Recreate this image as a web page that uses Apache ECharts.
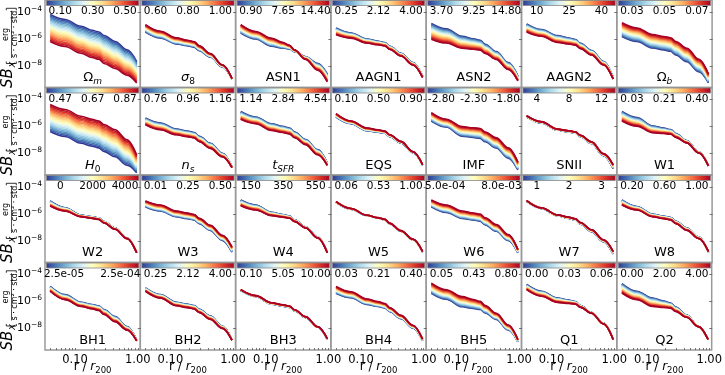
<!DOCTYPE html>
<html>
<head>
<meta charset="utf-8">
<script src="https://cdn.jsdelivr.net/npm/echarts@6/dist/echarts.min.js"></script>
<style>
  html, body { margin: 0; padding: 0; background: #fff; }
  #chart { width: 725px; height: 375px; }
</style>
</head>
<body>
<div id="chart"></div>
<script>
// radii (r / r200) where the profiles are sampled
var radii = [0.040, 0.069, 0.124, 0.186, 0.240, 0.289, 0.433, 0.673, 0.96];
// log10 SB of the fiducial profile at those radii
var baseLogSB = [-5.18, -5.64, -6.11, -6.27, -6.38, -6.66, -7.18, -7.96, -8.92];

// panel names: [main, subscript, main italic, sub italic]
var panelNames = [
  ['Ω', 'm', 0, 1], ['σ', '8', 1, 0], ['ASN1'], ['AAGN1'], ['ASN2'], ['AAGN2'], ['Ω', 'b', 0, 1],
  ['H', '0', 1, 0], ['n', 's', 1, 1], ['t', 'SFR', 1, 1], ['EQS'], ['IMF'], ['SNII'], ['W1'],
  ['W2'], ['W3'], ['W4'], ['W5'], ['W6'], ['W7'], ['W8'],
  ['BH1'], ['BH2'], ['BH3'], ['BH4'], ['BH5'], ['Q1'], ['Q2']
];

// colorbar tick labels per panel
var cbTicks = [
  ['0.10', '0.30', '0.50'], ['0.60', '0.80', '1.00'], ['0.90', '7.65', '14.40'], ['0.25', '2.12', '4.00'],
  ['3.70', '9.25', '14.80'], ['10', '25', '40'], ['0.03', '0.05', '0.07'],
  ['0.47', '0.67', '0.87'], ['0.76', '0.96', '1.16'], ['1.14', '2.84', '4.54'], ['0.10', '0.50', '0.90'],
  ['-2.80', '-2.30', '-1.80'], ['4', '8', '12'], ['0.03', '0.21', '0.40'],
  ['0', '2000', '4000'], ['0.01', '0.25', '0.50'], ['150', '350', '550'], ['0.06', '0.53', '1.00'],
  ['5.0e-04', '8.0e-03'], ['1', '2', '3'], ['0.20', '0.60', '1.00'],
  ['2.5e-05', '2.5e-04'], ['0.25', '2.12', '4.00'], ['0.10', '5.05', '10.00'], ['0.03', '0.21', '0.40'],
  ['0.05', '0.43', '0.80'], ['0.00', '0.03', '0.06'], ['0.00', '2.00', '4.00']
];

// offset (dex) from the fiducial profile of the lowest-parameter (blue) curve
var blueEdge = [
  [1.0, 1.09, 1.06, 0.92, 0.9, 0.92, 1.0, 1.16, 1.25],
  [-0.3, -0.28, -0.25, -0.22, -0.22, -0.2, -0.15, -0.1, -0.05],
  [-0.38, -0.36, -0.42, -0.4, -0.36, -0.28, -0.13, 0.16, 0.33],
  [0.0, 0.09, 0.11, 0.11, 0.11, 0.12, 0.12, 0.21, 0.17],
  [0.33, 0.39, 0.31, 0.29, 0.28, 0.27, 0.25, 0.21, 0.18],
  [0.3, 0.34, 0.36, 0.35, 0.34, 0.34, 0.33, 0.29, 0.08],
  [-0.63, -0.54, -0.56, -0.54, -0.53, -0.52, -0.5, -0.46, -0.33],
  [-1.19, -1.1, -1.13, -1.18, -1.2, -1.18, -1.06, -0.9, -0.51],
  [-0.19, -0.1, -0.08, -0.07, -0.07, -0.07, -0.06, -0.03, -0.06],
  [0.29, 0.35, 0.32, 0.28, 0.26, 0.25, 0.21, 0.25, 0.21],
  [-0.12, -0.15, -0.2, -0.15, -0.12, -0.09, -0.04, 0.02, 0.05],
  [-0.41, -0.4, -0.6, -0.54, -0.5, -0.47, -0.41, -0.38, -0.29],
  [-0.1, -0.1, -0.15, -0.13, -0.11, -0.1, -0.08, -0.2, -0.2],
  [0.29, 0.3, 0.15, 0.15, 0.15, 0.14, 0.14, 0.08, 0.0],
  [0.15, 0.11, 0.03, 0.07, 0.09, 0.11, 0.15, 0.19, 0.1],
  [-0.28, -0.14, -0.09, -0.07, -0.06, -0.05, -0.03, 0.01, 0.1],
  [0.22, 0.31, 0.24, 0.23, 0.23, 0.23, 0.22, 0.26, 0.1],
  [0.05, 0.0, 0.0, -0.03, -0.05, -0.07, -0.1, 0.05, 0.1],
  [-0.28, -0.24, -0.21, -0.17, -0.15, -0.14, -0.1, 0.0, 0.05],
  [0.12, 0.05, -0.02, -0.05, -0.07, -0.09, -0.12, -0.1, -0.05],
  [0.22, 0.19, 0.09, 0.11, 0.12, 0.13, 0.15, 0.26, 0.05],
  [0.31, 0.15, 0.05, 0.05, 0.05, 0.06, 0.06, 0.1, 0.06],
  [0.19, 0.15, 0.05, 0.07, 0.08, 0.09, 0.11, 0.15, 0.1],
  [0.0, 0.02, -0.08, -0.07, -0.05, -0.03, 0.0, 0.05, 0.12],
  [-0.21, -0.08, -0.1, -0.1, -0.1, -0.09, -0.09, 0.0, 0.0],
  [-0.21, -0.19, -0.28, -0.24, -0.21, -0.18, -0.14, -0.15, -0.06],
  [0.44, 0.4, 0.37, 0.37, 0.37, 0.36, 0.36, 0.35, 0.11],
  [0.51, 0.4, 0.37, 0.31, 0.27, 0.25, 0.19, 0.1, 0.11]
];
// offset (dex) of the highest-parameter (red) curve
var redEdge = [
  [-1.0, -0.91, -0.94, -1.1, -1.12, -1.15, -1.0, -0.71, -0.33],
  [0.25, 0.22, 0.2, 0.18, 0.18, 0.15, 0.1, 0.05, 0.0],
  [0.25, 0.2, 0.17, 0.02, -0.08, -0.15, -0.33, -0.34, -0.25],
  [-0.5, -0.29, -0.19, -0.155, -0.13, -0.115, -0.08, 0.04, 0.08],
  [-0.83, -0.66, -0.57, -0.49, -0.44, -0.41, -0.33, -0.29, -0.18],
  [-0.3, -0.16, -0.14, -0.1, -0.07, -0.05, 0.0, 0.04, -0.05],
  [0.38, 0.46, 0.44, 0.46, 0.47, 0.48, 0.5, 0.46, 0.33],
  [0.81, 0.9, 0.87, 0.8, 0.78, 0.8, 0.94, 0.97, 0.81],
  [-0.69, -0.6, -0.5, -0.48, -0.47, -0.46, -0.44, -0.28, -0.12],
  [-0.29, -0.15, -0.18, -0.17, -0.17, -0.17, -0.16, -0.13, 0.04],
  [0.13, 0.05, 0.0, 0.03, 0.04, 0.05, 0.08, 0.1, 0.1],
  [0.21, 0.18, 0.1, 0.18, 0.23, 0.26, 0.34, 0.38, 0.29],
  [-0.02, 0.0, -0.08, -0.04, -0.01, 0.01, 0.05, -0.05, 0.1],
  [-0.41, -0.33, -0.35, -0.25, -0.19, -0.14, -0.04, 0.0, 0.0],
  [-0.23, -0.14, -0.09, -0.05, -0.02, 0.0, 0.05, 0.14, 0.05],
  [0.15, 0.31, 0.33, 0.34, 0.34, 0.34, 0.35, 0.39, 0.48],
  [-0.2, -0.06, -0.01, 0.04, 0.07, 0.1, 0.15, 0.19, 0.05],
  [0.1, 0.05, 0.02, 0.0, -0.01, -0.03, -0.05, 0.1, 0.15],
  [0.22, 0.31, 0.33, 0.35, 0.37, 0.38, 0.4, 0.44, 0.3],
  [0.18, 0.1, 0.05, 0.04, 0.03, 0.03, 0.02, 0.05, 0.15],
  [-0.15, -0.06, -0.09, -0.07, -0.06, -0.05, -0.03, 0.14, 0.15],
  [-0.06, -0.22, -0.25, -0.27, -0.28, -0.29, -0.31, -0.15, 0.0],
  [-0.06, -0.1, -0.2, -0.18, -0.17, -0.16, -0.14, -0.03, 0.05],
  [0.06, 0.08, 0.02, 0.03, 0.04, 0.05, 0.06, 0.1, 0.18],
  [0.29, 0.36, 0.3, 0.26, 0.23, 0.2, 0.16, 0.2, 0.15],
  [0.54, 0.51, 0.47, 0.42, 0.39, 0.36, 0.31, 0.22, 0.11],
  [0.06, 0.03, 0.05, 0.13, 0.19, 0.23, 0.31, 0.3, 0.11],
  [-0.19, -0.22, -0.25, -0.17, -0.11, -0.07, 0.01, 0.1, 0.11]
];

var yTickExp = [-8, -6, -4];
var xTickVals = [0.1, 1.0];

// RdYlBu reversed
var cmapStops = ['#313695', '#4575b4', '#74add1', '#abd9e9', '#e0f3f8', '#ffffbf',
                 '#fee090', '#fdae61', '#f46d43', '#d73027', '#a50026'];

var NCOL = 7, NROW = 4, NCURVE = 20;
var left0 = 45, colW = 95.3, rowH = 87.5;
var FONT = '"DejaVu Sans", sans-serif';

function hexRgb(h) {
  return [parseInt(h.substr(1, 2), 16), parseInt(h.substr(3, 2), 16), parseInt(h.substr(5, 2), 16)];
}
function cmap(t) {
  var s = t * (cmapStops.length - 1);
  var i = Math.min(Math.floor(s), cmapStops.length - 2);
  var f = s - i;
  var a = hexRgb(cmapStops[i]), b = hexRgb(cmapStops[i + 1]);
  return 'rgb(' + [0, 1, 2].map(function (k) { return Math.round(a[k] + f * (b[k] - a[k])); }).join(',') + ')';
}

var ctx = document.createElement('canvas').getContext('2d');
function textW(s, font) { ctx.font = font; return ctx.measureText(s).width; }

// minor ticks for the log x axis
var xMinor = [];
[0.01, 0.1].forEach(function (dec) {
  for (var m = 1; m <= 9; m++) {
    var v = m * dec;
    if (v >= 0.034) xMinor.push(Math.log10(v));
  }
});
xMinor.push(0);

var grids = [], xAxes = [], yAxes = [], series = [], graphics = [];

for (var k = 0; k < NROW * NCOL; k++) {
  var row = Math.floor(k / NCOL), col = k % NCOL;
  var gl = left0 + col * colW, gt = row * rowH;
  var bottom = row === NROW - 1;

  grids.push({
    left: gl, top: gt, width: colW, height: rowH,
    show: true, borderColor: '#9a9a9a', borderWidth: 1.5
  });
  xAxes.push({
    gridIndex: k, type: 'value', min: -1.48, max: 0.04,
    axisLine: { show: false }, splitLine: { show: false },
    axisTick: { show: bottom, inside: true, length: 2, customValues: xMinor, lineStyle: { color: '#555', width: 0.8 } },
    axisLabel: {
      show: bottom, customValues: xTickVals.map(Math.log10), margin: 4,
      fontSize: 11.5, fontFamily: FONT, color: '#000',
      formatter: function (v) { return Math.pow(10, v).toFixed(2); }
    }
  });
  yAxes.push({
    gridIndex: k, type: 'value', min: -9.59, max: -3.11,
    axisLine: { show: false }, splitLine: { show: false },
    axisTick: { show: true, inside: true, length: 3, customValues: yTickExp, lineStyle: { color: '#555', width: 0.8 } },
    axisLabel: {
      show: col === 0, customValues: yTickExp, margin: 3, fontFamily: FONT, color: '#000',
      formatter: function (v) { return '{b|10}{s|' + String(v).replace('-', '−') + '}'; },
      rich: {
        b: { fontSize: 11, lineHeight: 14, fontFamily: FONT, color: '#000' },
        s: { fontSize: 7.5, lineHeight: 8, verticalAlign: 'top', fontFamily: FONT, color: '#000' }
      }
    }
  });

  for (var c = 0; c < NCURVE; c++) {
    var t = c / (NCURVE - 1);
    var data = radii.map(function (r, i) {
      return [Math.log10(r), baseLogSB[i] + blueEdge[k][i] + t * (redEdge[k][i] - blueEdge[k][i])];
    });
    series.push({
      type: 'line', xAxisIndex: k, yAxisIndex: k, data: data,
      smooth: 0.35, smoothMonotone: 'x', symbol: 'none', silent: true,
      lineStyle: { width: 1.6, color: cmap(t) }, z: 2
    });
  }

  // colorbar
  graphics.push({
    type: 'rect', z: 20,
    shape: { x: gl + 1.5, y: gt + 0.5, width: colW - 3, height: 5 },
    style: {
      fill: new echarts.graphic.LinearGradient(0, 0, 1, 0, cmapStops.map(function (cc, i) {
        return { offset: i / (cmapStops.length - 1), color: cc };
      })),
      stroke: '#888', lineWidth: 0.8
    }
  });
  var ticks = cbTicks[k];
  var fr = ticks.length === 3 ? [0.16, 0.5, 0.84] : [0.2, 0.79];
  ticks.forEach(function (lab, i) {
    graphics.push({
      type: 'text', z: 20, x: gl + fr[i] * colW, y: gt + 11.5,
      style: { text: lab, font: '10.5px ' + FONT, fill: '#000', align: 'center', verticalAlign: 'middle' }
    });
  });

  // panel name
  var nm = panelNames[k];
  var rt = nm.length > 1 ? '{' + (nm[2] ? 'mi' : 'm') + '|' + nm[0] + '}{' + (nm[3] ? 'si' : 's') + '|' + nm[1] + '}'
                         : '{m|' + nm[0] + '}';
  graphics.push({
    type: 'text', z: 20, x: gl + colW / 2, y: gt + 78,
    style: {
      text: rt, align: 'center', verticalAlign: 'middle',
      rich: {
        m: { fontSize: 13, lineHeight: 17, fontFamily: FONT, fill: '#000' },
        mi: { fontSize: 13, lineHeight: 17, fontFamily: FONT, fontStyle: 'italic', fill: '#000' },
        s: { fontSize: 9, lineHeight: 9, fontFamily: FONT, verticalAlign: 'bottom', fill: '#000' },
        si: { fontSize: 9, lineHeight: 9, fontFamily: FONT, fontStyle: 'italic', verticalAlign: 'bottom', fill: '#000' }
      }
    }
  });

  if (bottom) {
    graphics.push({
      type: 'text', z: 20, x: gl + colW / 2, y: 367,
      style: {
        text: '{a|r / }{i|r}{s|200}', align: 'center', verticalAlign: 'middle',
        rich: {
          a: { fontSize: 12, lineHeight: 16, fontFamily: FONT, fill: '#000' },
          i: { fontSize: 12, lineHeight: 16, fontFamily: FONT, fontStyle: 'italic', fill: '#000' },
          s: { fontSize: 8.5, lineHeight: 9, fontFamily: FONT, verticalAlign: 'bottom', fill: '#000' }
        }
      }
    });
  }
}

// y-axis titles, one per row, rotated
var denom = 's · cm² · std', fracFont = '8px ' + FONT;
var wDen = textW(denom, fracFont);
for (var r = 0; r < NROW; r++) {
  var fx = 30, lx2 = fx + wDen;
  graphics.push({
    type: 'group', x: 13.3, y: r * rowH + 88, rotation: Math.PI / 2, z: 20,
    children: [
      { type: 'text', x: 0, y: -5.2, style: { text: 'SB', font: 'italic 15px ' + FONT, fill: '#000', align: 'left', verticalAlign: 'middle' } },
      { type: 'text', x: 20.5, y: -0.5, style: { text: 'x', font: 'italic 10px ' + FONT, fill: '#000', align: 'left', verticalAlign: 'middle' } },
      { type: 'polyline', shape: { points: [[26.5, -7], [24.5, -7], [24.5, 3], [26.5, 3]] }, style: { stroke: '#000', lineWidth: 0.8, fill: null } },
      { type: 'text', x: fx + wDen / 2, y: -7.1, style: { text: 'erg', font: fracFont, fill: '#000', align: 'center', verticalAlign: 'middle' } },
      { type: 'line', shape: { x1: fx, y1: -1.8, x2: lx2, y2: -1.8 }, style: { stroke: '#000', lineWidth: 0.7 } },
      { type: 'text', x: fx + wDen / 2, y: 1.4, style: { text: denom, font: fracFont, fill: '#000', align: 'center', verticalAlign: 'middle' } },
      { type: 'polyline', shape: { points: [[lx2 + 0.5, -7], [lx2 + 2.5, -7], [lx2 + 2.5, 3], [lx2 + 0.5, 3]] }, style: { stroke: '#000', lineWidth: 0.8, fill: null } }
    ]
  });
}

var chart = echarts.init(document.getElementById('chart'));
chart.setOption({
  animation: false,
  backgroundColor: '#fff',
  grid: grids,
  xAxis: xAxes,
  yAxis: yAxes,
  series: series,
  graphic: { elements: graphics }
});
</script>
</body>
</html>
